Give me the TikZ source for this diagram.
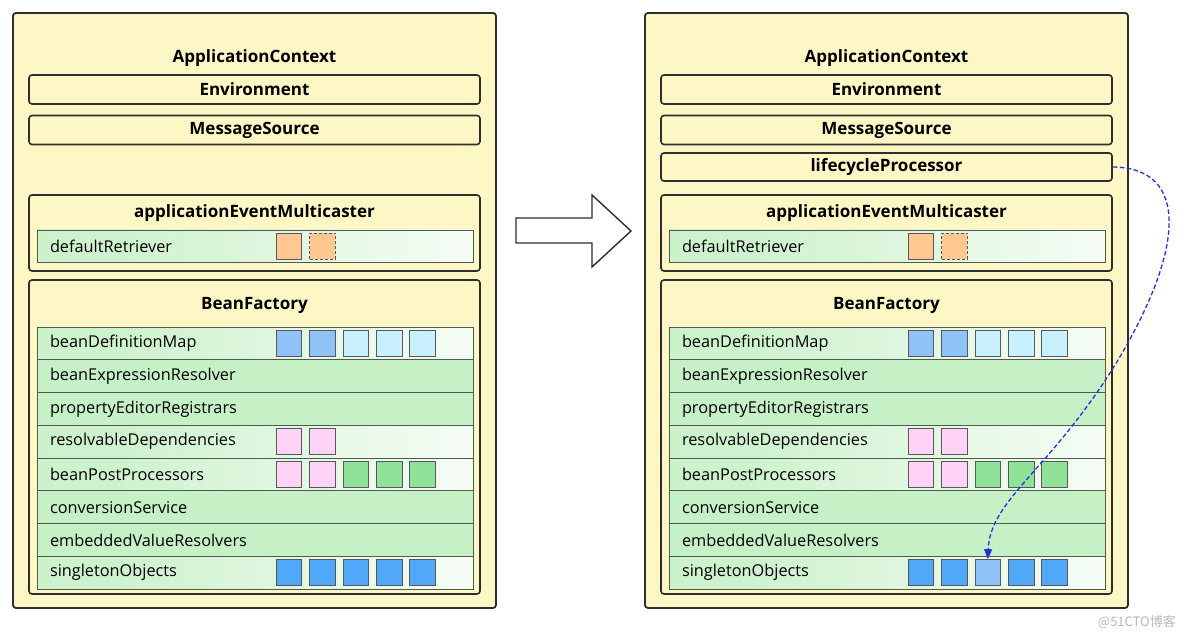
\documentclass[tikz,border=0pt]{standalone}
\usepackage{fontspec}
\setmainfont{Open Sans}
\newfontfamily\cjk{Noto Sans CJK SC}
\usetikzlibrary{arrows.meta}
\definecolor{bgyellow}{HTML}{FDF7C6}
\definecolor{rowgreen}{HTML}{C6F0C6}
\definecolor{sqblueL}{HTML}{90C2F8}
\definecolor{sqcyan}{HTML}{C8F0FF}
\definecolor{sqpink}{HTML}{FFD2F8}
\definecolor{sqgreen}{HTML}{90E298}
\definecolor{sqblue}{HTML}{52A8F8}
\definecolor{sqorange}{HTML}{FFC890}
\definecolor{edge}{HTML}{2E2E2E}
\definecolor{rowedge}{HTML}{505A50}
\definecolor{curveblue}{HTML}{2233DD}
\pgfdeclarehorizontalshading{rowfade}{100bp}{color(0bp)=(rowgreen); color(35bp)=(rowgreen!85!white); color(85bp)=(white); color(100bp)=(white)}
\tikzset{
  outerbox/.style={draw=edge, line width=1.8pt, fill=bgyellow, rounded corners=3pt},
  ibox/.style={draw=edge, line width=1.6pt, fill=bgyellow, rounded corners=3pt, minimum width=451pt, inner sep=0pt, font=\bfseries\fontsize{17}{20}\selectfont},
  title/.style={font=\bfseries\fontsize{17}{20}\selectfont, inner sep=0pt},
  row/.style={draw=rowedge, line width=0.9pt, minimum height=32.75pt, text width=410pt, inner xsep=13pt, inner ysep=0pt, align=left, font=\fontsize{16.3}{19}\selectfont},
  plainrow/.style={row, fill=rowgreen},
  faderow/.style={row, shading=rowfade},
  sq/.style={draw=edge!80, line width=0.9pt, minimum width=25.5pt, minimum height=26pt, inner sep=0pt},
}
\newcommand\squares[3]{%
  \foreach \c [count=\i] in {#2} {
    \node[sq, fill=\c] (#1-\i) at (#3+33.4*\i-33.4, 0 |- #1) {};
  }
}
\newcommand\drawpanel[2]{%
\begin{scope}[xshift=#2]
\node[outerbox, minimum width=483pt, minimum height=595pt] (#1-ac) at (254.5,310.5) {};
\node[title] (#1-act) at (254.5,58) {ApplicationContext};
\node[ibox, minimum height=29pt] (#1-env) at (254.5,89.5) {Environment};
\node[ibox, minimum height=29pt] (#1-ms) at (254.5,130) {MessageSource};
\node[ibox, minimum height=76pt] (#1-aem) at (254.5,233) {};
\node[title] (#1-aemt) at (254.5,213) {applicationEventMulticaster};
\node[faderow, minimum height=32pt] (#1-dr) at (255,246) {defaultRetriever};
\node[sq, fill=sqorange] (#1-dr-1) at (289,246) {};
\node[sq, fill=sqorange, dashed, dash pattern=on 3pt off 2pt] (#1-dr-2) at (322.4,246) {};
\node[ibox, minimum height=314pt] (#1-bf) at (254.5,437) {};
\node[title] (#1-bft) at (254.5,305) {BeanFactory};
\node[faderow]  (#1-bdm) at (255,343.4) {beanDefinitionMap};
\node[plainrow] (#1-ber) at (255,376.1) {beanExpressionResolver};
\node[plainrow] (#1-per) at (255,408.9) {propertyEditorRegistrars};
\node[faderow]  (#1-rd)  at (255,441.6) {resolvableDependencies};
\node[faderow]  (#1-bpp) at (255,474.4) {beanPostProcessors};
\node[plainrow] (#1-cs)  at (255,507.1) {conversionService};
\node[plainrow] (#1-evr) at (255,539.9) {embeddedValueResolvers};
\node[faderow]  (#1-so)  at (255,572.6) {singletonObjects};
\squares{#1-bdm}{sqblueL,sqblueL,sqcyan,sqcyan,sqcyan}{289}
\squares{#1-rd}{sqpink,sqpink}{289}
\squares{#1-bpp}{sqpink,sqpink,sqgreen,sqgreen,sqgreen}{289}
\end{scope}}
\begin{document}
\begin{tikzpicture}[x=1pt,y=-1pt]
\useasboundingbox[fill=white] (0,0) rectangle (1184,639);
\drawpanel{L}{0pt}
\drawpanel{R}{632pt}
\begin{scope}[xshift=632pt]
\node[ibox, minimum height=28pt] (R-lp) at (254.5,167) {lifecycleProcessor};
\squares{R-so}{sqblue,sqblue,sqblueL,sqblue,sqblue}{289}
\end{scope}
\squares{L-so}{sqblue,sqblue,sqblue,sqblue,sqblue}{289}
% big hollow arrow
\draw[line width=1.4pt, draw=edge, fill=white, line join=miter]
  (516,218) -- (592,218) -- (592,195) -- (631,231) -- (592,267) -- (592,243) -- (516,243) -- cycle;
% dashed curve
\draw[curveblue, line width=1.3pt, dash pattern=on 4.5pt off 2.5pt, -{Triangle[length=10pt,width=8pt]}]
  (R-lp.east) .. controls (1190,168) and (1185,250) .. (1115,365)
  .. controls (1050,470) and (990,500) .. (R-so-3.north);
% watermark
\node[font=\cjk\fontsize{13}{15}\selectfont, text=gray!55, anchor=east, inner sep=0pt] (wm) at (1176,622) {@51CTO博客};
\end{tikzpicture}
\end{document}
